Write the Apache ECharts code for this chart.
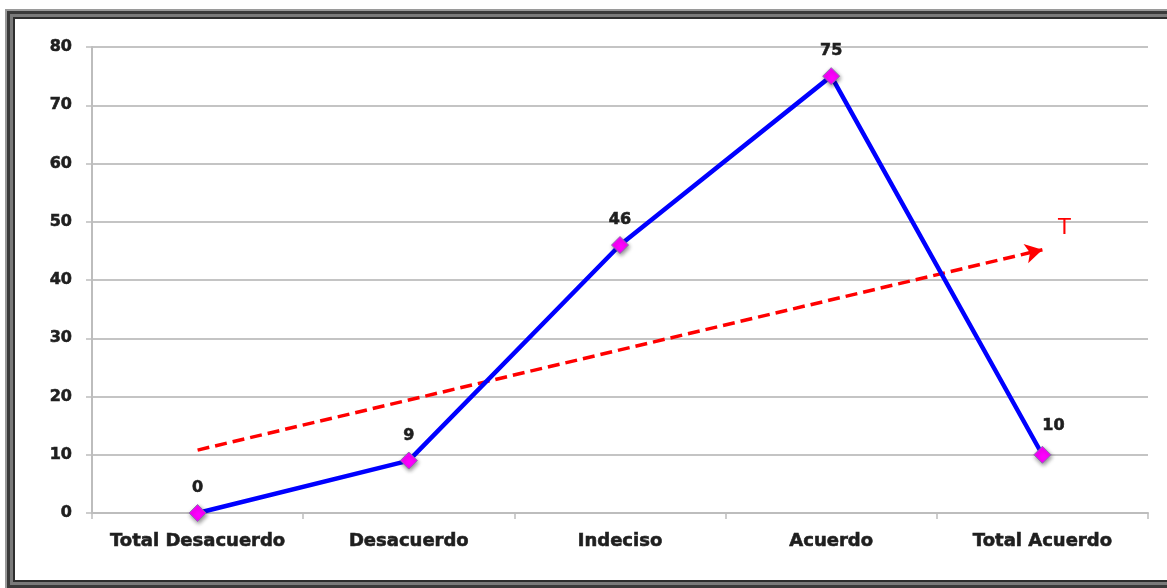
<!DOCTYPE html>
<html>
<head>
<meta charset="utf-8">
<script src="https://cdn.jsdelivr.net/npm/echarts@6/dist/echarts.min.js"></script>
<style>
  html, body { margin: 0; padding: 0; background: #fff; width: 1167px; height: 588px; overflow: hidden; }
  .frame {
    position: absolute; left: 5px; top: 9px; width: 1200px; height: 581px;
    box-sizing: border-box;
    border: 2px solid #9a9a9a;
    box-shadow: inset 0 0 0 3px #3a3a3a, inset 0 0 0 6px #7a7a7a, inset 0 0 0 8px #2e2e2e;
    background: #fff;
  }
  #chart { position: absolute; left: 0; top: 0; width: 1167px; height: 588px; }
</style>
</head>
<body>
<div class="frame"></div>
<div id="chart"></div>
<script>
// Response categories along the x axis
const categories = ['Total Desacuerdo', 'Desacuerdo', 'Indeciso', 'Acuerdo', 'Total Acuerdo'];
// Number of responses per category
const counts = [0, 9, 46, 75, 10];
// Trend line end values (first and last category)
const trendValues = [10.8, 45.2];
// Trend label
const trendLabel = 'T';

const font = 'DejaVu Sans';
const ink = '#1f1f1f';
const heavy = { color: ink, fontFamily: font, fontWeight: 'bold', textBorderColor: ink, textBorderWidth: 0.6 };
const chart = echarts.init(document.getElementById('chart'), null, { renderer: 'canvas' });

// The last point's label sits a little to the right so the line does not cross it
const lineData = counts.map((v, i) =>
  i === counts.length - 1 ? { value: v, label: { offset: [11, -4] } } : v
);

chart.setOption({
  backgroundColor: 'transparent',
  animation: false,
  grid: { left: 92, right: 19, top: 47, bottom: 75, containLabel: false },
  xAxis: {
    type: 'category',
    data: categories,
    boundaryGap: true,
    axisLine: { lineStyle: { color: '#bdbdbd', width: 2 } },
    axisTick: { show: true, interval: 0, length: 6, lineStyle: { color: '#bdbdbd', width: 1.5 } },
    axisLabel: Object.assign({ interval: 0, fontSize: 18, margin: 19 }, heavy)
  },
  yAxis: {
    type: 'value',
    min: 0, max: 80, interval: 10,
    axisLine: { show: true, lineStyle: { color: '#bdbdbd', width: 2 } },
    axisTick: { show: true, length: 6, lineStyle: { color: '#bdbdbd', width: 1.5 } },
    splitLine: { lineStyle: { color: '#c4c4c4', width: 2 } },
    axisLabel: Object.assign({ fontSize: 16, margin: 20 }, heavy)
  },
  series: [
    {
      name: 'Respuestas',
      type: 'line',
      data: lineData,
      z: 5,
      lineStyle: { color: '#0000ff', width: 4.5 },
      symbol: 'diamond',
      symbolSize: 17,
      itemStyle: {
        color: '#ff00ff', borderColor: '#8a6ab0', borderWidth: 1,
        shadowColor: 'rgba(0,0,0,0.45)', shadowBlur: 4, shadowOffsetX: 1, shadowOffsetY: 2
      },
      label: Object.assign({ show: true, position: 'top', distance: 8, fontSize: 16 }, heavy),
      markLine: {
        silent: true,
        symbol: ['none', 'arrow'],
        symbolSize: [15, 17],
        label: { show: false },
        lineStyle: { color: '#ff0000', type: [12, 6], width: 3.5 },
        data: [[
          { coord: [categories[0], trendValues[0]] },
          { coord: [categories[categories.length - 1], trendValues[1]] }
        ]]
      },
      markPoint: {
        silent: true,
        symbol: 'circle', symbolSize: 1,
        itemStyle: { color: 'rgba(0,0,0,0)' },
        label: {
          show: true, formatter: trendLabel, color: '#ff0000',
          fontFamily: font, fontSize: 21, offset: [22, -21]
        },
        data: [{ coord: [categories[categories.length - 1], trendValues[1]] }]
      }
    }
  ]
});
</script>
</body>
</html>
